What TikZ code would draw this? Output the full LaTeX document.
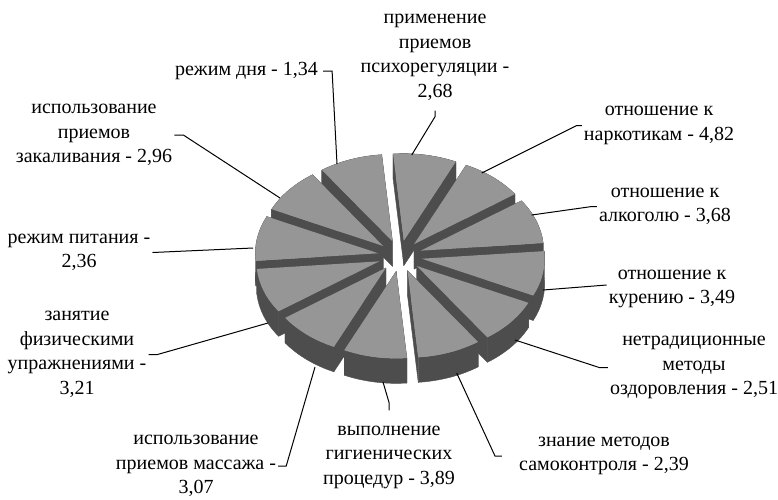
\documentclass[tikz,border=0pt]{standalone}
\usepackage{fontspec}
\setmainfont{Liberation Serif}
\usetikzlibrary{calc}
\definecolor{ink}{HTML}{000000}
\definecolor{facetop}{HTML}{969696}
\definecolor{faceside}{HTML}{4D4D4D}
\tikzset{
  lbl/.style={align=center,inner sep=2pt,text=ink,font=\fontsize{20}{24.5}\selectfont},
  leader/.style={draw=ink,line width=1pt},
  sidewall/.style={fill=faceside,draw=faceside,line width=0.4pt,line join=round},
  topwall/.style={fill=facetop}
}
\newcommand{\pieslab}[2]{%
  \pgfmathsetmacro{\slabmid}{(#1+#2)/2}
  \begin{scope}[shift={({22*cos(\slabmid)},{15.6*sin(\slabmid)})}]
    \path[sidewall] (0,0) -- (#1:123pt and 87pt) -- ++(0,-25) -- (0,-25) -- cycle;
    \path[sidewall] (0,0) -- (#2:123pt and 87pt) -- ++(0,-25) -- (0,-25) -- cycle;
    \path[sidewall] (#1:123pt and 87pt)
      arc[start angle=#1,end angle=#2,x radius=123pt,y radius=87pt]
      -- ++(0,-25) arc[start angle=#2,end angle=#1,x radius=123pt,y radius=87pt] -- cycle;
    \path[topwall] (0,0) -- (#1:123pt and 87pt)
      arc[start angle=#1,end angle=#2,x radius=123pt,y radius=87pt] -- cycle;
  \end{scope}}

\begin{document}
\begin{tikzpicture}[x=1pt,y=1pt]
  \useasboundingbox (0,0) rectangle (778,-499);
  \begin{scope}[shift={(400,-256)}]
    \foreach \a/\b in {65/95,95/125,35/65,125/155,5/35,155/185,
                       -25/5,185/215,-55/-25,215/245,-85/-55,245/275}{%
      \pieslab{\a}{\b}}
  \end{scope}

  \coordinate (p-psy) at (411.7,-155);
  \coordinate (p-drug) at (481.7,-173);
  \coordinate (p-alco) at (531.7,-215);
  \coordinate (p-smoke) at (543,-290);
  \coordinate (p-alt) at (515,-340);
  \coordinate (p-self) at (456.7,-373);
  \coordinate (p-hyg) at (383,-382);
  \coordinate (p-mass) at (315,-367);
  \coordinate (p-sport) at (268,-323);
  \coordinate (p-food) at (253,-248);
  \coordinate (p-hard) at (280,-198);
  \coordinate (p-day) at (337,-164);

  \node[lbl] (psy) at (435,-57.5) {применение\\приемов\\психорегуляции -\\2,68};
  \node[lbl] (drug) at (659,-125.5) {отношение к\\наркотикам - 4,82};
  \node[lbl] (alco) at (665,-206.5) {отношение к\\алкоголю - 3,68};
  \node[lbl] (smoke) at (672,-289) {отношение к\\курению - 3,49};
  \node[lbl] (alt) at (694,-367.7) {нетрадиционные\\методы\\оздоровления - 2,51};
  \node[lbl] (self) at (604,-456) {знание методов\\самоконтроля - 2,39};
  \node[lbl] (hyg) at (389,-457) {выполнение\\гигиенических\\процедур - 3,89};
  \node[lbl] (mass) at (196,-466) {использование\\приемов массажа -\\3,07};
  \node[lbl] (sport) at (77,-354.5) {занятие\\физическими\\упражнениями -\\3,21};
  \node[lbl] (food) at (79,-252.5) {режим питания -\\2,36};
  \node[lbl] (hard) at (94,-135) {использование\\приемов\\закаливания - 2,96};
  \node[lbl] (day) at (246.5,-71) {режим дня - 1,34};

  \draw[leader] (p-psy) -- ([yshift=-14pt]psy.south) -- ([yshift=-8pt]psy.south);
  \draw[leader] (p-drug) -- ([xshift=-5pt]drug.west) -- (drug.west);
  \draw[leader] (p-alco) -- ([xshift=-5pt]alco.west) -- (alco.west);
  \draw[leader] (p-smoke) -- ([yshift=4pt]smoke.west);
  \draw[leader] (p-alt) -- ([xshift=-8pt]alt.west) -- (alt.west);
  \draw[leader] (p-self) -- ([xshift=-22pt]self.west) -- ([xshift=-15pt]self.west);
  \draw[leader] (p-hyg) -- ([yshift=21pt]hyg.north) -- ([yshift=13pt]hyg.north);
  \draw[leader] (p-mass) -- ([xshift=8pt]mass.east) -- (mass.east);
  \draw[leader] (p-sport) -- ([xshift=9pt]sport.east) -- (sport.east);
  \draw[leader] (p-food) -- (food.east);
  \draw[leader] (p-hard) -- ([xshift=9pt]hard.east) -- (hard.east);
  \draw[leader] (p-day) -- ([xshift=12pt]day.east) -- ([xshift=3pt]day.east);
\end{tikzpicture}
\end{document}
